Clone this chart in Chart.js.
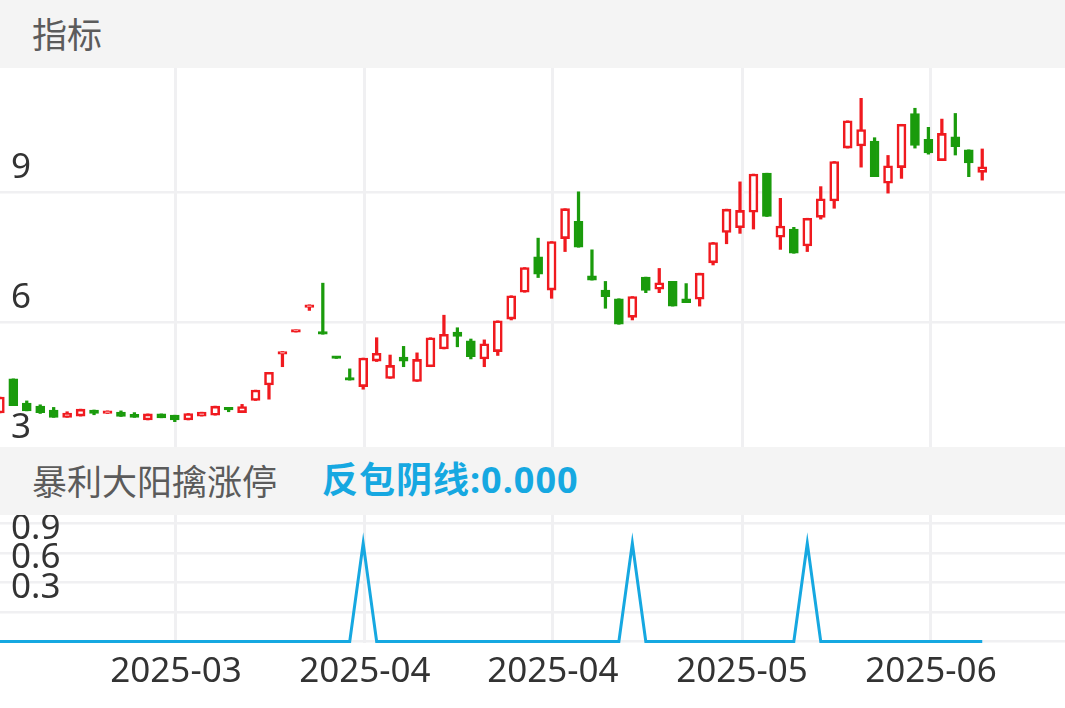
<!DOCTYPE html>
<html>
<head>
<meta charset="utf-8">
<script src="https://cdn.jsdelivr.net/npm/chart.js@4.4.1/dist/chart.umd.min.js"></script>
<style>
  html, body { margin: 0; padding: 0; background: #fff; width: 1065px; height: 708px; overflow: hidden; }
  body { position: relative; font-family: "Noto Sans", "Noto Sans CJK SC", sans-serif; }
  .band { position: absolute; left: 0; width: 1065px; height: 68px; background: #f4f4f4; z-index: 2;
          font-family: "Noto Sans CJK SC", sans-serif; font-size: 35px; line-height: 66px; color: #5b5b5b; }
  .band span { position: absolute; top: 0; }
  #topBox { position: absolute; left: 0; top: 68px; width: 1065px; height: 384px; }
  #botBox { position: absolute; left: 0; top: 515px; width: 1065px; height: 193px; }
  .blue { color: #16a8e1; font-weight: bold; font-size: 36px; letter-spacing: 1px;
          font-family: "Noto Sans", "Noto Sans CJK SC", sans-serif; }
</style>
</head>
<body>
<div class="band" style="top:0"><span style="left:32px">指标</span></div>
<div id="topBox"><canvas id="top" width="1065" height="384"></canvas></div>
<div class="band" style="top:447px"><span style="left:32px">暴利大阳擒涨停</span><span class="blue" style="left:322px">反包阴线:0.000</span></div>
<div id="botBox"><canvas id="bot" width="1065" height="193"></canvas></div>
<script>
// daily candles, oldest first
const open  = [3.90, 4.69, 4.13, 4.06, 3.97, 3.80, 3.83, 3.97, 3.89, 3.92,
               3.87, 3.74, 3.88, 3.85, 3.74, 3.83, 3.85, 4.02, 3.91, 4.19,
               4.55, 5.26, 5.77, 6.34, 5.78, 5.21, 4.72, 4.51, 5.10, 4.70,
               5.19, 4.63, 4.97, 5.38, 5.77, 5.57, 5.15, 5.32, 6.07, 6.69,
               7.51, 6.74, 7.93, 8.33, 7.07, 6.74, 6.54, 6.11, 7.04, 6.76,
               6.94, 6.54, 6.53, 7.37, 8.07, 8.18, 8.54, 9.44, 7.96, 8.15,
               7.76, 8.42, 8.80, 10.02, 10.07, 10.18, 9.21, 9.57, 10.82, 10.22,
               9.73, 10.28, 9.98, 9.46];
const close = [4.27, 4.07, 3.95, 3.91, 3.80, 3.90, 3.99, 3.89, 3.95, 3.82,
               3.80, 3.88, 3.79, 3.74, 3.89, 3.92, 4.06, 3.97, 4.05, 4.43,
               4.84, 5.32, 5.82, 6.40, 5.72, 5.16, 4.66, 5.17, 5.28, 5.00,
               5.10, 5.14, 5.64, 5.72, 5.67, 5.20, 5.50, 6.03, 6.61, 7.26,
               7.11, 7.86, 8.62, 7.73, 6.97, 6.59, 5.95, 6.59, 6.73, 6.91,
               6.37, 6.45, 7.13, 7.84, 8.61, 8.58, 9.42, 8.44, 8.22, 7.59,
               8.40, 8.85, 9.71, 10.65, 10.45, 9.36, 9.61, 10.57, 10.08, 9.91,
               10.36, 10.05, 9.68, 9.59];
const high  = [4.27, 4.69, 4.18, 4.09, 4.03, 3.93, 3.99, 3.97, 3.95, 3.95,
               3.91, 3.88, 3.88, 3.85, 3.89, 3.92, 4.06, 4.02, 4.10, 4.43,
               4.84, 5.32, 5.82, 6.40, 6.90, 5.21, 4.92, 5.17, 5.64, 5.24,
               5.44, 5.29, 5.64, 6.16, 5.87, 5.61, 5.59, 6.03, 6.61, 7.26,
               7.94, 7.86, 8.62, 9.01, 7.67, 6.94, 6.54, 6.59, 7.04, 7.24,
               6.94, 6.89, 7.13, 7.84, 8.61, 9.24, 9.42, 9.44, 8.86, 8.19,
               8.40, 9.13, 9.71, 10.65, 11.17, 10.26, 9.85, 10.57, 10.94, 10.50,
               10.69, 10.82, 9.98, 10.00];
const low   = [3.90, 4.07, 3.95, 3.89, 3.80, 3.80, 3.83, 3.86, 3.89, 3.82,
               3.80, 3.74, 3.79, 3.70, 3.74, 3.83, 3.85, 3.93, 3.91, 4.19,
               4.22, 4.97, 5.77, 6.27, 5.72, 5.16, 4.66, 4.45, 5.09, 4.70,
               4.97, 4.63, 4.97, 5.38, 5.43, 5.15, 4.97, 5.23, 6.05, 6.69,
               7.03, 6.55, 7.63, 7.73, 6.97, 6.32, 5.95, 6.05, 6.68, 6.68,
               6.37, 6.45, 6.37, 7.32, 7.81, 8.05, 8.15, 8.44, 7.68, 7.59,
               7.63, 8.38, 8.63, 10.02, 9.58, 9.36, 8.98, 9.32, 10.02, 9.88,
               9.73, 9.86, 9.36, 9.28];
// 反包阴线 signal
const signal = [0, 0, 0, 0, 0, 0, 0, 0, 0, 0, 0, 0, 0, 0, 0, 0, 0, 0, 0, 0,
                0, 0, 0, 0, 0, 0, 0, 1, 0, 0, 0, 0, 0, 0, 0, 0, 0, 0, 0, 0,
                0, 0, 0, 0, 0, 0, 0, 1, 0, 0, 0, 0, 0, 0, 0, 0, 0, 0, 0, 0,
                1, 0, 0, 0, 0, 0, 0, 0, 0, 0, 0, 0, 0, 0];
const priceTicks = [3, 6, 9];
const signalTicks = [0, 0.3, 0.6, 0.9, 1.2];
// month markers, in candle index units
const monthTicks = [13.09, 27.13, 41.10, 55.15, 69.19];
const monthLabels = ['2025-03', '2025-04', '2025-04', '2025-05', '2025-06'];

const RED = '#f01a1f', GREEN = '#1a9b0c', BLUE = '#16a8e1', GRID = '#f0f0f2';
const X_MIN = 0.012, X_MAX = 79.15;

const idx = open.map((_, i) => i);
const up = idx.map(i => close[i] >= open[i]);

// labels sit inside the plot, so drop the padding chart.js reserves for them
function noPad(s) {
  s.paddingTop = 0; s.paddingBottom = 0; s.paddingLeft = 0; s.paddingRight = 0;
}

function xScale(showLabels) {
  return {
    type: 'linear', min: X_MIN, max: X_MAX, offset: false,
    afterBuildTicks: s => { s.ticks = monthTicks.map(v => ({ value: v })); },
    afterFit: s => { s.height = showLabels ? 65 : 0; noPad(s); },
    grid: { color: GRID, lineWidth: 3, drawTicks: false, offset: false },
    border: { display: false },
    ticks: {
      display: showLabels, autoSkip: false, maxRotation: 0, padding: 8,
      color: '#333', font: { family: 'Noto Sans', size: 35 },
      callback: (v, i) => monthLabels[i]
    }
  };
}

function yScale(min, max, tickVals, fmt) {
  return {
    min: min, max: max,
    afterBuildTicks: s => { s.ticks = tickVals.map(v => ({ value: v })); },
    afterFit: s => { s.width = 0; noPad(s); },
    grid: { color: GRID, lineWidth: 2.5, drawTicks: false },
    border: { display: false },
    ticks: {
      mirror: true, padding: 11, labelOffset: -24, autoSkip: false,
      color: '#333', font: { family: 'Noto Sans', size: 35 },
      callback: fmt
    }
  };
}

new Chart(document.getElementById('top'), {
  type: 'bar',
  data: {
    datasets: [
      {
        data: idx.map(i => ({ x: i, y: [open[i], close[i]] })),
        backgroundColor: up.map(u => u ? '#ffffff' : GREEN),
        borderColor: up.map(u => u ? RED : GREEN),
        borderWidth: 2.6, borderSkipped: false, barThickness: 9, minBarLength: 2.6,
        order: 0
      },
      {
        data: idx.map(i => ({ x: i, y: [low[i], high[i]] })),
        backgroundColor: up.map(u => u ? RED : GREEN),
        borderWidth: 0, barThickness: 2.6,
        order: 1
      }
    ]
  },
  options: {
    responsive: false, animation: false,
    layout: { padding: 0, autoPadding: false },
    datasets: { bar: { grouped: false } },
    plugins: { legend: { display: false }, tooltip: { enabled: false } },
    scales: {
      x: xScale(false),
      y: yScale(3, 11.87, priceTicks, v => String(v))
    }
  }
});

new Chart(document.getElementById('bot'), {
  type: 'line',
  data: {
    datasets: [{
      data: idx.map(i => ({ x: i, y: signal[i] })),
      borderColor: BLUE, borderWidth: 3, pointRadius: 0, tension: 0, fill: false
    }]
  },
  options: {
    responsive: false, animation: false,
    layout: { padding: 0, autoPadding: false },
    plugins: { legend: { display: false }, tooltip: { enabled: false } },
    scales: {
      x: xScale(true),
      y: yScale(-0.0153, 1.287, signalTicks, v => (v > 0 && v < 1) ? v.toFixed(1) : '')
    }
  }
});
</script>
</body>
</html>
